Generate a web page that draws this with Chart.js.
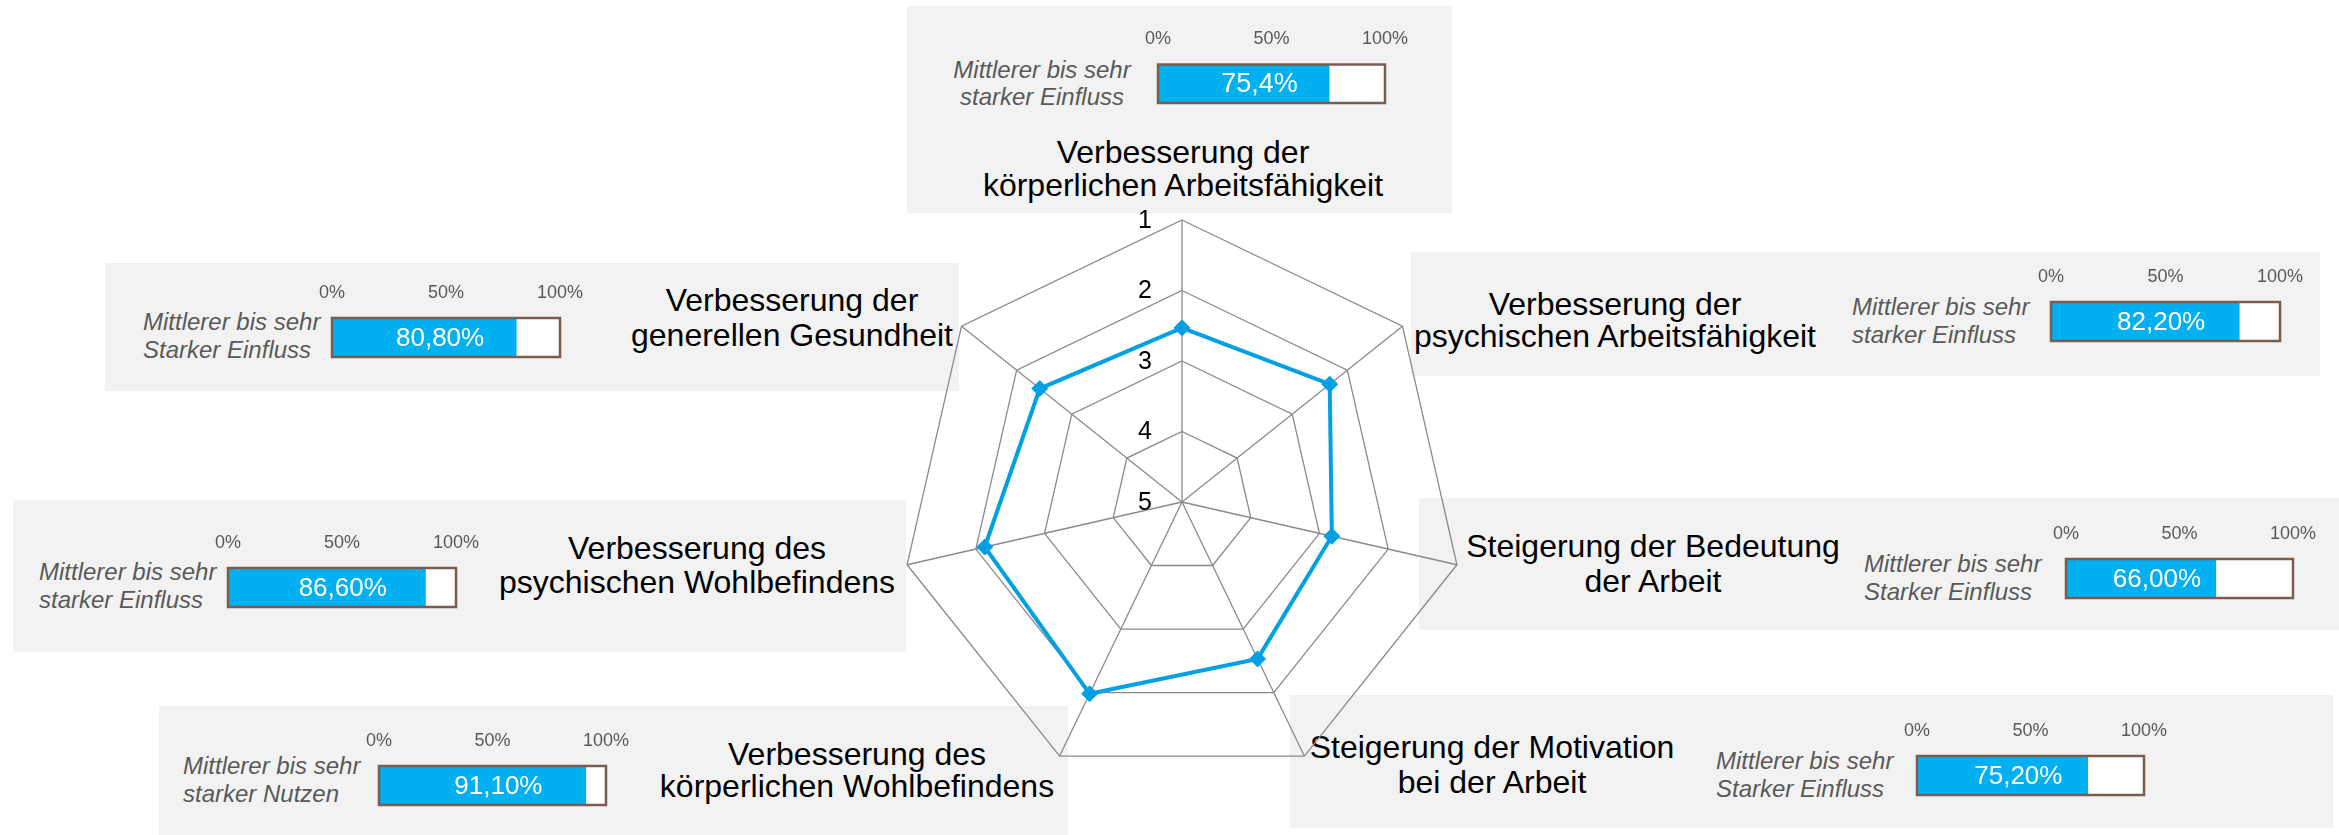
<!DOCTYPE html>
<html lang="de">
<head>
<meta charset="utf-8">
<title>Einfluss und Nutzen</title>
<script src="https://cdn.jsdelivr.net/npm/chart.js@4.4.1/dist/chart.umd.min.js"></script>
<style>
  html, body { margin: 0; padding: 0; background: #fff; }
  #stage { position: relative; width: 2339px; height: 835px; overflow: hidden; font-family: "Liberation Sans", Arial, sans-serif; }
  .box { position: absolute; background: #F2F2F2; }
  .title { position: absolute; width: 700px; text-align: center; font-size: 32px; color: #000; white-space: nowrap; }
  .caption { position: absolute; font-size: 24px; font-style: italic; color: #595959; white-space: nowrap; }
  .mini { position: absolute; }
  #radar { position: absolute; left: 882px; top: 202px; z-index: 5; }
</style>
</head>
<body>
<div id="stage">
  <canvas id="radar" width="600" height="600"></canvas>
</div>
<script>
// radar axes, clockwise from the top
const categories = [
  ["Verbesserung der", "körperlichen Arbeitsfähigkeit"],
  ["Verbesserung der", "psychischen Arbeitsfähigkeit"],
  ["Steigerung der Bedeutung", "der Arbeit"],
  ["Steigerung der Motivation", "bei der Arbeit"],
  ["Verbesserung des", "körperlichen Wohlbefindens"],
  ["Verbesserung des", "psychischen Wohlbefindens"],
  ["Verbesserung der", "generellen Gesundheit"],
];
const meanScores = [2.53, 2.32, 2.82, 2.53, 1.98, 2.13, 2.42];
const scoreTicks = [1, 2, 3, 4, 5];

// share "mittlerer bis sehr starker ..." per axis
const shareValues = [75.4, 82.2, 66.0, 75.2, 91.1, 86.6, 80.8];
const shareLabels = ["75,4%", "82,20%", "66,00%", "75,20%", "91,10%", "86,60%", "80,80%"];
const shareTicks = [0, 50, 100];
const captions = [
  ["Mittlerer bis sehr", "starker Einfluss"],
  ["Mittlerer bis sehr", "starker Einfluss"],
  ["Mittlerer bis sehr", "Starker Einfluss"],
  ["Mittlerer bis sehr", "Starker Einfluss"],
  ["Mittlerer bis sehr", "starker Nutzen"],
  ["Mittlerer bis sehr", "starker Einfluss"],
  ["Mittlerer bis sehr", "Starker Einfluss"],
];

// page layout (px): box rect, title centre/baseline/line step, caption anchor, bar frame rect
const layout = [
  { box: [907, 6, 545, 207], title: [1183, 164, 33], cap: [1042, 78, 27, "center"], frame: [1158, 62, 227, 41], valueFont: 27 },
  { box: [1411, 252, 909, 124], title: [1615, 315, 32], cap: [1852, 315, 28, "left"], frame: [2051, 299, 229, 42] },
  { box: [1419, 498, 920, 132], title: [1653, 558, 35], cap: [1864, 572, 28, "left"], frame: [2066, 556, 227, 42] },
  { box: [1290, 695, 1043, 133], title: [1492, 759, 35], cap: [1716, 769, 28, "left"], frame: [1917, 753, 227, 42] },
  { box: [159, 706, 909, 129], title: [857, 765, 32], cap: [183, 774, 28, "left"], frame: [379, 763, 227, 42] },
  { box: [13, 500, 893, 152], title: [697, 559, 34], cap: [39, 580, 28, "left"], frame: [228, 565, 228, 42] },
  { box: [105, 263, 854, 128], title: [792, 312, 35], cap: [143, 330, 28, "left"], frame: [332, 315, 228, 42] },
];

const FONT = '"Liberation Sans", Arial, sans-serif';
const BLUE_LINE = "#00A0E3";
const BLUE_BAR = "#00B0F0";
const FRAME = "#7A5C50";
const GRID = "#8A8A8A";

const stage = document.getElementById("stage");

function addDiv(cls, css, html) {
  const el = document.createElement("div");
  el.className = cls;
  Object.assign(el.style, css);
  if (html !== undefined) el.innerHTML = html;
  stage.appendChild(el);
  return el;
}

// bar frame: white track 0..100 %, brown outline, value text in the bar
const barFrame = {
  id: "barFrame",
  beforeDatasetsDraw(chart) {
    const { ctx, scales: { x } } = chart;
    const bar = chart.getDatasetMeta(0).data[0];
    const { y, height } = bar.getProps(["y", "height"], true);
    const x0 = x.getPixelForValue(shareTicks[0]);
    const x1 = x.getPixelForValue(shareTicks[shareTicks.length - 1]);
    ctx.save();
    ctx.fillStyle = "#FFFFFF";
    ctx.fillRect(x0, y - height / 2, x1 - x0, height);
    ctx.restore();
  },
  afterDatasetsDraw(chart, args, opts) {
    const { ctx, scales: { x } } = chart;
    const bar = chart.getDatasetMeta(0).data[0];
    const { x: xe, y, base, height } = bar.getProps(["x", "y", "base", "height"], true);
    const x0 = x.getPixelForValue(shareTicks[0]);
    const x1 = x.getPixelForValue(shareTicks[shareTicks.length - 1]);
    ctx.save();
    ctx.strokeStyle = FRAME;
    ctx.lineWidth = 2.5;
    ctx.strokeRect(x0, y - height / 2, x1 - x0, height);
    ctx.fillStyle = "#FFFFFF";
    ctx.font = `${opts.size}px ${FONT}`;
    ctx.textAlign = "center";
    ctx.textBaseline = "middle";
    ctx.fillText(opts.text, (base + xe) / 2 + 16, y + 1);
    ctx.restore();
  },
};

layout.forEach((L, i) => {
  const [bx, by, bw, bh] = L.box;
  addDiv("box", { left: bx + "px", top: by + "px", width: bw + "px", height: bh + "px" });

  const [tx, tb, tl] = L.title;
  addDiv("title", {
    left: tx - 350 + "px",
    top: tb - tl / 2 - 11.1 + "px",
    lineHeight: tl + "px",
  }, categories[i].join("<br>"));

  const [cx, cb, cl, align] = L.cap;
  const capCss = { top: cb - cl / 2 - 8.3 + "px", lineHeight: cl + "px", textAlign: align };
  if (align === "center") {
    capCss.left = cx - 150 + "px";
    capCss.width = "300px";
  } else {
    capCss.left = cx + "px";
  }
  addDiv("caption", capCss, captions[i].join("<br>"));

  // padX must exceed half the widest edge tick label plus the tick padding
  const [fx, fy, fw, fh] = L.frame;
  const padX = 42, axisH = 36, padB = 3;
  const cv = document.createElement("canvas");
  cv.className = "mini";
  cv.width = fw + padX * 2;
  cv.height = axisH + fh + padB;
  cv.style.left = fx - padX + "px";
  cv.style.top = fy - axisH + "px";
  stage.appendChild(cv);

  new Chart(cv, {
    type: "bar",
    data: {
      labels: [captions[i].join(" ")],
      datasets: [{
        data: [shareValues[i]],
        backgroundColor: BLUE_BAR,
        borderWidth: 0,
        barPercentage: 1,
        categoryPercentage: 1,
      }],
    },
    options: {
      indexAxis: "y",
      responsive: false,
      animation: false,
      layout: { padding: { left: padX, right: padX, top: 0, bottom: padB } },
      plugins: {
        legend: { display: false },
        tooltip: { enabled: false },
        barFrame: { text: shareLabels[i], size: L.valueFont || 26 },
      },
      scales: {
        x: {
          position: "top",
          min: shareTicks[0],
          max: shareTicks[shareTicks.length - 1],
          afterBuildTicks: (s) => { s.ticks = shareTicks.map((v) => ({ value: v })); },
          ticks: {
            callback: (v) => v + "%",
            color: "#595959",
            font: { size: 18, family: FONT },
            padding: 14.4,
            maxRotation: 0,
            autoSkip: false,
          },
          grid: { display: false, drawTicks: false },
          border: { display: false },
        },
        y: { display: false },
      },
    },
    plugins: [barFrame],
  });
});

// radar tick numbers sit left of the top axis
const scoreLabels = {
  id: "scoreLabels",
  beforeDatasetsDraw(chart) {
    const r = chart.scales.r;
    const ctx = chart.ctx;
    ctx.save();
    ctx.font = `25px ${FONT}`;
    ctx.fillStyle = "#000";
    ctx.textAlign = "center";
    ctx.textBaseline = "middle";
    r.ticks.forEach((t) => {
      const d = r.getDistanceFromCenterForValue(t.value);
      ctx.fillText(String(t.value), r.xCenter - 37, r.yCenter - d + 1);
    });
    ctx.restore();
  },
};

new Chart(document.getElementById("radar"), {
  type: "radar",
  data: {
    labels: categories,
    datasets: [{
      data: meanScores,
      borderColor: BLUE_LINE,
      borderWidth: 4,
      backgroundColor: BLUE_LINE,
      fill: false,
      tension: 0,
      pointStyle: "rectRot",
      pointRadius: 8,
      pointBorderWidth: 1,
      pointBackgroundColor: BLUE_LINE,
      pointBorderColor: BLUE_LINE,
    }],
  },
  options: {
    responsive: false,
    animation: false,
    layout: { padding: 18 },
    plugins: { legend: { display: false }, tooltip: { enabled: false } },
    scales: {
      r: {
        min: scoreTicks[0],
        max: scoreTicks[scoreTicks.length - 1],
        reverse: true,
        afterBuildTicks: (s) => { s.ticks = scoreTicks.slice().reverse().map((v) => ({ value: v })); },
        ticks: { display: false, reverse: true },
        pointLabels: { display: false },
        grid: { color: GRID, lineWidth: 1.3 },
        angleLines: { color: GRID, lineWidth: 1.3 },
      },
    },
  },
  plugins: [scoreLabels],
});
</script>
</body>
</html>
